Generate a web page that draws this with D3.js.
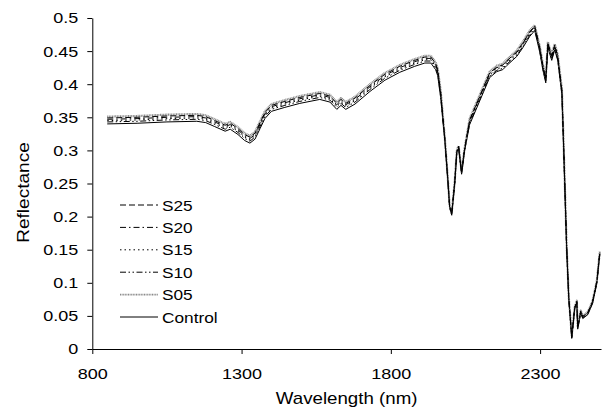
<!DOCTYPE html>
<html>
<head>
<meta charset="utf-8">
<script src="https://cdn.jsdelivr.net/npm/d3@7"></script>
<style>
  body { margin: 0; background: #fff; }
  svg { display: block; }
</style>
</head>
<body>
<div id="chart"></div>
<script>
/* Wavelengths (nm) shared by every series */
var wavelengths = [850,950,1050,1150,1180,1210,1245,1262,1288,1310,1328,1345,1362,1378,1400,1445,1495,1562,1596,1619,
    1633,1649,1680,1730,1780,1830,1880,1914,1934,1950,1957,1967,
    1981,1991,1997,2004,2014,2021,2027,2037,2047,
    2064,2098,2131,2155,2175,2188,2222,2242,2265,2282,2299,2309,2319,2326,2339,2349,2359,2373,
    2379,2389,2396,2403,2406,2416,2423,2426,2436,2443,2460,2476,2490,2500];

var s25 = [0.349,0.350,0.352,0.353,0.351,0.345,0.338,0.341,0.333,0.324,0.320,0.326,0.342,0.357,0.368,0.374,0.380,0.386,0.382,0.371,
    0.377,0.371,0.379,0.398,0.415,0.427,0.436,0.441,0.441,0.431,0.422,0.388,
    0.317,0.256,0.216,0.205,0.252,0.299,0.306,0.267,0.302,
    0.346,0.382,0.417,0.426,0.429,0.435,0.449,0.462,0.479,0.488,0.455,0.429,0.409,0.462,0.443,0.459,0.443,0.391,
    0.305,0.154,0.078,0.037,0.019,0.063,0.072,0.033,0.057,0.049,0.055,0.072,0.102,0.146];

var s20 = [0.347,0.348,0.350,0.351,0.349,0.343,0.336,0.339,0.331,0.322,0.318,0.324,0.340,0.355,0.366,0.372,0.378,0.384,0.380,0.369,
    0.375,0.369,0.377,0.396,0.413,0.425,0.434,0.439,0.439,0.429,0.420,0.386,
    0.317,0.256,0.216,0.205,0.252,0.299,0.306,0.267,0.302,
    0.345,0.381,0.416,0.425,0.428,0.434,0.448,0.461,0.478,0.487,0.454,0.428,0.408,0.461,0.442,0.458,0.442,0.390,
    0.305,0.154,0.078,0.037,0.019,0.063,0.072,0.033,0.057,0.049,0.055,0.072,0.102,0.146];

var s15 = [0.345,0.346,0.348,0.349,0.347,0.341,0.334,0.337,0.329,0.320,0.316,0.322,0.338,0.353,0.364,0.370,0.376,0.382,0.378,0.367,
    0.373,0.367,0.375,0.394,0.411,0.423,0.432,0.437,0.437,0.427,0.418,0.384,
    0.316,0.255,0.215,0.204,0.251,0.298,0.305,0.266,0.301,
    0.343,0.379,0.414,0.423,0.426,0.432,0.446,0.459,0.476,0.485,0.452,0.426,0.406,0.459,0.440,0.456,0.440,0.388,
    0.304,0.153,0.077,0.036,0.018,0.062,0.071,0.032,0.056,0.048,0.054,0.071,0.101,0.145];

var s10 = [0.343,0.344,0.346,0.347,0.345,0.339,0.332,0.335,0.327,0.318,0.314,0.320,0.336,0.351,0.362,0.368,0.374,0.380,0.376,0.365,
    0.371,0.365,0.373,0.392,0.409,0.421,0.430,0.435,0.435,0.425,0.416,0.382,
    0.315,0.254,0.214,0.203,0.250,0.297,0.304,0.265,0.300,
    0.341,0.377,0.412,0.421,0.424,0.430,0.444,0.457,0.474,0.483,0.450,0.424,0.404,0.457,0.438,0.454,0.438,0.386,
    0.303,0.152,0.076,0.035,0.017,0.061,0.070,0.031,0.055,0.047,0.053,0.070,0.100,0.144];

var s05 = [0.351,0.352,0.354,0.355,0.353,0.347,0.340,0.343,0.335,0.326,0.322,0.328,0.344,0.359,0.370,0.376,0.382,0.388,0.384,0.373,
    0.379,0.373,0.381,0.400,0.417,0.429,0.438,0.443,0.443,0.433,0.424,0.390,
    0.318,0.257,0.217,0.206,0.253,0.300,0.307,0.268,0.303,
    0.348,0.384,0.419,0.428,0.431,0.437,0.451,0.464,0.481,0.489,0.457,0.431,0.411,0.464,0.445,0.461,0.445,0.393,
    0.306,0.155,0.079,0.038,0.020,0.064,0.073,0.034,0.058,0.050,0.056,0.073,0.103,0.147];

var control = [0.340,0.341,0.343,0.344,0.342,0.336,0.329,0.332,0.324,0.315,0.311,0.317,0.333,0.348,0.359,0.365,0.371,0.377,0.373,0.362,
    0.368,0.362,0.370,0.389,0.406,0.418,0.427,0.432,0.432,0.422,0.413,0.379,
    0.314,0.253,0.213,0.202,0.249,0.296,0.303,0.264,0.299,
    0.339,0.375,0.410,0.419,0.422,0.428,0.442,0.455,0.472,0.481,0.448,0.422,0.402,0.455,0.436,0.452,0.436,0.384,
    0.302,0.151,0.075,0.034,0.016,0.060,0.069,0.030,0.054,0.046,0.052,0.069,0.099,0.143];

var seriesNames = ["S25", "S20", "S15", "S10", "S05", "Control"];
var seriesValues = [s25, s20, s15, s10, s05, control];
var xTicks = [800, 1300, 1800, 2300];
var yTicks = [0, 0.05, 0.1, 0.15, 0.2, 0.25, 0.3, 0.35, 0.4, 0.45, 0.5];

/* Line styles, same order as seriesNames */
var styles = [
    { stroke: "#000", width: 1, dash: "6,3" },
    { stroke: "#000", width: 1, dash: "6,3,1.5,3" },
    { stroke: "#000", width: 1, dash: "1.5,3" },
    { stroke: "#000", width: 1, dash: "6,2.5,1.5,2.5,1.5,2.5" },
    { stroke: "#8a8a8a", width: 2.2, dash: "1,0.6" },
    { stroke: "#000", width: 1, dash: null }
];

var width = 605, height = 409;
var fontFamily = "'Liberation Sans', Arial, Helvetica, sans-serif";

/* Original text is a little wider than Liberation Sans: stretch glyphs horizontally */
function stretch(sel, k) {
    sel.each(function() {
        var n = this.getComputedTextLength();
        d3.select(this).attr("textLength", n * k).attr("lengthAdjust", "spacingAndGlyphs");
    });
}

var x = d3.scaleLinear().domain([800, 2504]).range([92.3, 601]);
var y = d3.scaleLinear().domain([0, 0.5]).range([349, 18]);

var svg = d3.select("#chart")
    .append("svg")
    .attr("width", width)
    .attr("height", height);

/* Series lines */
var line = d3.line()
    .x(function(d, i) { return x(wavelengths[i]); })
    .y(function(d) { return y(d); });

svg.append("g")
    .selectAll("path")
    .data(seriesValues.map(function(v, i) { return { name: seriesNames[i], values: v, style: styles[i] }; }).reverse())
    .enter().append("path")
    .attr("d", function(d) { return line(d.values); })
    .attr("fill", "none")
    .attr("stroke", function(d) { return d.style.stroke; })
    .attr("stroke-width", function(d) { return d.style.width; })
    .attr("stroke-dasharray", function(d) { return d.style.dash; })
    .attr("stroke-linejoin", "round");

/* Axes */
var xAxis = svg.append("g")
    .attr("transform", "translate(0," + y(0) + ")")
    .call(d3.axisBottom(x).tickValues(xTicks).tickSize(5).tickSizeOuter(0).tickPadding(14)
        .tickFormat(d3.format("d")));

var yAxis = svg.append("g")
    .attr("transform", "translate(" + x(800) + ",0)")
    .call(d3.axisLeft(y).tickValues(yTicks).tickSize(5).tickSizeOuter(0).tickPadding(9)
        .tickFormat(function(d) { return d3.format("")(+d.toFixed(2)); }));

[xAxis, yAxis].forEach(function(a) {
    a.select(".domain").attr("stroke", "#000").attr("stroke-width", 1);
    a.selectAll(".tick line").attr("stroke", "#000");
    a.selectAll(".tick text")
        .attr("font-family", fontFamily)
        .attr("font-size", 15.5)
        .attr("fill", "#000")
        .call(stretch, 1.16);
});

/* Axis titles */
svg.append("text")
    .attr("x", (x(800) + 601) / 2)
    .attr("y", 404)
    .attr("text-anchor", "middle")
    .attr("font-family", fontFamily)
    .attr("font-size", 17)
    .text("Wavelength (nm)")
    .call(stretch, 1.1);

svg.append("text")
    .attr("transform", "translate(29,192.5) rotate(-90)")
    .attr("text-anchor", "middle")
    .attr("font-family", fontFamily)
    .attr("font-size", 17)
    .text("Reflectance")
    .call(stretch, 1.12);

/* Legend */
var legend = svg.append("g")
    .selectAll("g")
    .data(seriesNames)
    .enter().append("g")
    .attr("transform", function(d, i) { return "translate(120," + (205 + i * 22.4) + ")"; });

legend.append("line")
    .attr("x1", 0)
    .attr("x2", 38)
    .attr("y1", 0)
    .attr("y2", 0)
    .attr("stroke", function(d, i) { return styles[i].stroke; })
    .attr("stroke-width", function(d, i) { return styles[i].width === 1 ? 1 : 1.6; })
    .attr("stroke-dasharray", function(d, i) { return styles[i].dash; });

legend.append("text")
    .attr("x", 42)
    .attr("y", 5.5)
    .attr("font-family", fontFamily)
    .attr("font-size", 15)
    .text(function(d) { return d; })
    .call(stretch, 1.15);
</script>
</body>
</html>
